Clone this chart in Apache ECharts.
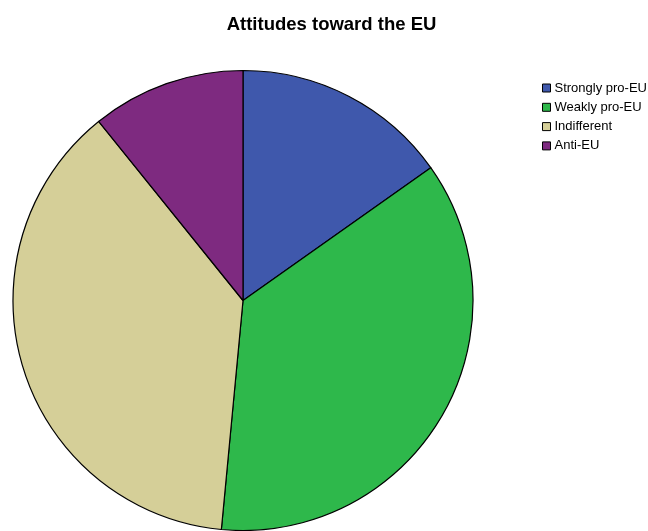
<!DOCTYPE html>
<html><head><meta charset="utf-8">
<script src="https://cdn.jsdelivr.net/npm/echarts@6/dist/echarts.min.js"></script>
<style>html,body{margin:0;padding:0;background:#fff}#c{width:648px;height:531px}</style>
</head><body><div id="c"></div>
<script>
const categories = ["Strongly pro-EU", "Weakly pro-EU", "Indifferent", "Anti-EU"];
const values = [15.2, 36.3, 37.7, 10.8];
const colors = ["#3f58ac", "#2eb84b", "#d5cf98", "#7e2a80"];
const titleText = 'Attitudes toward the EU';

// pick font sizes so that text widths match the reference
function fitSize(text, weight, target) {
  const ctx = document.createElement('canvas').getContext('2d');
  ctx.font = weight + ' 100px "Liberation Sans", Arial';
  return Math.round(100 * target / ctx.measureText(text).width * 2) / 2;
}
const titleSize = fitSize(titleText, 'bold', 207);
const legendSize = fitSize(categories[0], 'normal', 91);

const chart = echarts.init(document.getElementById('c'), null, {renderer: 'canvas'});
chart.setOption({
  backgroundColor: '#fff',
  animation: false,
  title: {
    text: titleText,
    left: 326.5, textAlign: 'center', top: 21 - titleSize / 2 - 1,
    textStyle: {fontFamily: 'Liberation Sans, Arial', fontSize: titleSize, fontWeight: 'bold', color: '#000', lineHeight: titleSize}
  },
  legend: {
    orient: 'vertical', left: 542, top: 81, padding: 0,
    itemWidth: 8, itemHeight: 8, itemGap: 5.3,
    icon: 'rect',
    textStyle: {fontFamily: 'Liberation Sans, Arial', fontSize: legendSize, lineHeight: 14, color: '#000', padding: [0,0,0,-1]},
    itemStyle: {borderColor: '#000', borderWidth: 1},
    data: categories
  },
  series: [{
    type: 'pie',
    center: [243, 300.5],
    radius: 230,
    startAngle: 90,
    clockwise: true,
    label: {show: false},
    labelLine: {show: false},
    emphasis: {disabled: true},
    itemStyle: {borderColor: '#000', borderWidth: 1.2},
    data: categories.map((n, i) => ({name: n, value: values[i], itemStyle: {color: colors[i]}}))
  }]
});
</script></body></html>
